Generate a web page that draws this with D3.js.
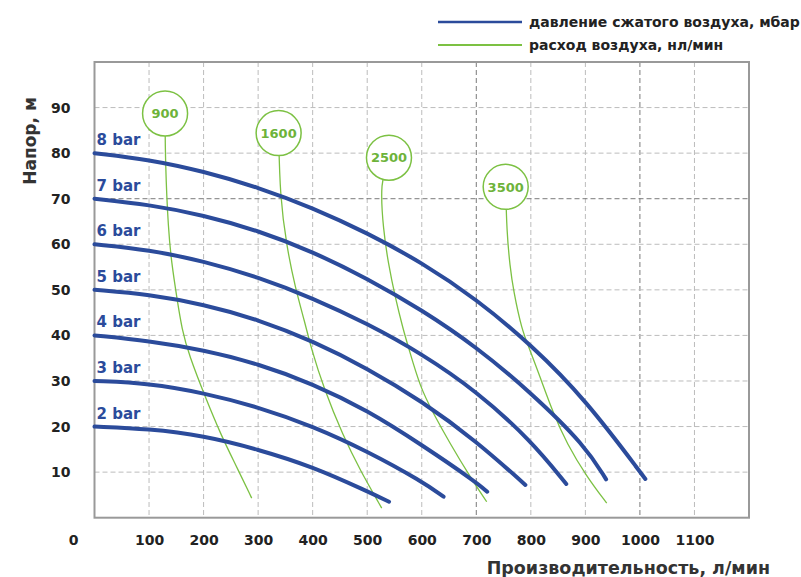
<!DOCTYPE html>
<html>
<head>
<meta charset="utf-8">
<script src="https://cdn.jsdelivr.net/npm/d3@7/dist/d3.min.js"></script>
<style>
  body { margin: 0; background: #fff; }
  #chart { width: 801px; height: 577px; }
  svg text { font-family: "DejaVu Sans", Verdana, sans-serif; font-weight: bold; }
</style>
</head>
<body>
<div id="chart"><svg></svg></div>
<script>
// pump curves: [flow l/min, head m] for each air pressure
var bar2 = [[0, 20], [100, 19.5], [200, 18], [300, 15], [400, 11.2], [500, 5.8], [540, 3.5]];
var bar3 = [[0, 30], [100, 29.5], [200, 27.4], [300, 24.3], [400, 20.1], [500, 14.6], [600, 8], [640, 4.6]];
var bar4 = [[0, 40], [100, 38.8], [200, 36.8], [300, 33.8], [400, 29.4], [500, 23.6], [600, 16], [700, 7.8], [720, 5.7]];
var bar5 = [[0, 50], [100, 49], [200, 46.8], [300, 43.5], [400, 38.8], [500, 32.8], [600, 25.6], [700, 16.8], [790, 7.2]];
var bar6 = [[0, 60], [100, 58.8], [200, 56.3], [300, 52.8], [400, 48.2], [500, 42.6], [600, 36], [700, 27.8], [800, 17], [865, 7.4]];
var bar7 = [[0, 70], [100, 68.7], [200, 66.4], [300, 63], [400, 58.4], [500, 52.5], [600, 45.6], [700, 37.5], [800, 27.5], [900, 15.8], [938, 8.4]];
var bar8 = [[0, 80], [100, 78.6], [200, 76], [300, 72.5], [400, 68], [500, 62.5], [600, 56], [700, 48], [800, 38], [900, 26], [1010, 8.5]];
var barNames = ["2 bar", "3 bar", "4 bar", "5 bar", "6 bar", "7 bar", "8 bar"];

// air consumption lines, nl/min
var air900 = [[129.8, 77.8], [135.3, 63.1], [141.5, 55.8], [150.7, 48.5], [160.4, 41.2], [173.3, 35.7], [202.6, 26.6], [233.2, 17.8], [257.6, 11.9], [288.2, 4.3]];
var air1600 = [[340.1, 70.4], [352.4, 59.5], [367.6, 50.7], [386, 42.7], [398.2, 36.8], [419.5, 28.7], [456.2, 17.8], [486.8, 10.5], [526.6, 2.1]];
var air2500 = [[523.5, 73.7], [529.5, 63.1], [538.7, 55.8], [551, 48.5], [566.2, 41.2], [575.4, 37.5], [596.8, 28.7], [621.2, 22.9], [651.8, 16.3], [688.5, 9], [719.1, 3.5]];
var air3500 = [[755.8, 62.9], [761.8, 55.1], [767.9, 50], [783.3, 41.2], [798.5, 36.8], [816.9, 30.9], [841.2, 22.9], [865.8, 16.3], [902.5, 9], [939.1, 3.2]];
var airNames = ["900", "1600", "2500", "3500"];
var airBubbles = [[129.4, 88.7], [337.6, 84.4], [539.9, 79], [753.9, 72.6]];

var xTicks = [100, 200, 300, 400, 500, 600, 700, 800, 900, 1000, 1100];
var yTicks = [10, 20, 30, 40, 50, 60, 70, 80, 90];
var darkX = [700, 1000];
var darkY = [70];
var legendNames = ["давление сжатого воздуха, мбар", "расход воздуха, нл/мин"];
var xTitle = "Производительность, л/мин";
var yTitle = "Напор, м";

var blue = "#2b4b9b";
var green = "#7cc143";

var build = function() {
  var left = 94.5, right = 749, top = 62, bottom = 517.7;

  var xScale = d3.scaleLinear().domain([0, 1200]).range([left, right]);
  var yScale = d3.scaleLinear().domain([0, 100]).range([bottom, top]);

  var svg = d3.select("#chart svg").
    attr("width", 801).
    attr("height", 577);

  // grid
  var grid = svg.append("g").attr("class", "grid");
  grid.selectAll("line.vx").
    data(xTicks).enter().append("line").
    attr("x1", function(d) { return xScale(d); }).
    attr("x2", function(d) { return xScale(d); }).
    attr("y1", top).attr("y2", bottom).
    attr("stroke", function(d) { return darkX.indexOf(d) >= 0 ? "#7a7a7a" : "#bcbcbc"; }).
    attr("stroke-width", 1).
    attr("stroke-dasharray", "5,3");
  grid.selectAll("line.hy").
    data(yTicks).enter().append("line").
    attr("y1", function(d) { return yScale(d); }).
    attr("y2", function(d) { return yScale(d); }).
    attr("x1", left).attr("x2", right).
    attr("stroke", function(d) { return darkY.indexOf(d) >= 0 ? "#7a7a7a" : "#bcbcbc"; }).
    attr("stroke-width", 1).
    attr("stroke-dasharray", "5,3");

  svg.append("rect").
    attr("x", left).attr("y", top).
    attr("width", right - left).attr("height", bottom - top).
    attr("fill", "none").
    attr("stroke", "#999").
    attr("stroke-width", 2);

  // axes (labels only)
  var xAxis = d3.axisBottom(xScale).tickValues(xTicks).tickFormat(d3.format("d")).tickSize(0).tickPadding(17);
  var yAxis = d3.axisLeft(yScale).tickValues(yTicks).tickFormat(d3.format("d")).tickSize(0).tickPadding(24);

  var gX = svg.append("g").
    attr("transform", "translate(0," + bottom + ")").
    call(xAxis);
  var gY = svg.append("g").
    attr("transform", "translate(" + left + ",0)").
    call(yAxis);
  [gX, gY].forEach(function(g) {
    g.select(".domain").remove();
    g.selectAll("text").
      attr("fill", "#222").
      style("font-size", "14px").
      style("font-family", "'DejaVu Sans', sans-serif").
      style("font-weight", "bold");
  });

  svg.append("text").
    attr("x", xScale(0) - 21).
    attr("y", bottom + 17).
    attr("dy", "0.71em").
    attr("text-anchor", "middle").
    attr("fill", "#222").
    style("font-size", "14px").
    text("0");

  var line = d3.line().
    x(function(d) { return xScale(d[0]); }).
    y(function(d) { return yScale(d[1]); }).
    curve(d3.curveBasis);

  // air consumption lines
  var airSeries = [air900, air1600, air2500, air3500];
  airSeries.forEach(function(s, i) {
    svg.append("path").
      datum([airBubbles[i]].concat(s)).
      attr("fill", "none").
      attr("stroke", green).
      attr("stroke-width", 1.3).
      attr("d", line);
  });

  // pressure curves
  var barSeries = [bar2, bar3, bar4, bar5, bar6, bar7, bar8];
  barSeries.forEach(function(s, i) {
    svg.append("path").
      datum(s).
      attr("fill", "none").
      attr("stroke", blue).
      attr("stroke-width", 4).
      attr("stroke-linecap", "round").
      attr("d", line);
    svg.append("text").
      attr("x", xScale(0) + 2).
      attr("y", yScale(s[0][1]) - 8).
      attr("fill", blue).
      style("font-size", "15px").
      text(barNames[i]);
  });

  // bubbles on top
  airBubbles.forEach(function(b, i) {
    svg.append("circle").
      attr("cx", xScale(b[0])).
      attr("cy", yScale(b[1])).
      attr("r", 22.5).
      attr("fill", "#fff").
      attr("stroke", green).
      attr("stroke-width", 1.5);
    svg.append("text").
      attr("x", xScale(b[0])).
      attr("y", yScale(b[1])).
      attr("dy", "0.36em").
      attr("text-anchor", "middle").
      attr("fill", "#6db33a").
      style("font-size", "13px").
      text(airNames[i]);
  });

  // legend
  var legend = svg.append("g");
  [blue, green].forEach(function(c, i) {
    legend.append("line").
      attr("x1", 438).attr("x2", 522).
      attr("y1", 22 + i * 23).attr("y2", 22 + i * 23).
      attr("stroke", c).
      attr("stroke-width", i === 0 ? 2.5 : 2);
    legend.append("text").
      attr("x", 529).
      attr("y", 22 + i * 23).
      attr("dy", "0.35em").
      attr("fill", "#222").
      style("font-size", "14px").
      text(legendNames[i]);
  });

  // axis titles
  svg.append("text").
    attr("x", 770).
    attr("y", 574).
    attr("text-anchor", "end").
    attr("fill", "#333").
    style("font-size", "17.5px").
    text(xTitle);

  svg.append("text").
    attr("transform", "translate(30,141) rotate(-90)").
    attr("dy", "0.35em").
    attr("text-anchor", "middle").
    attr("fill", "#333").
    style("font-size", "17px").
    text(yTitle);
};

build();
</script>
</body>
</html>
